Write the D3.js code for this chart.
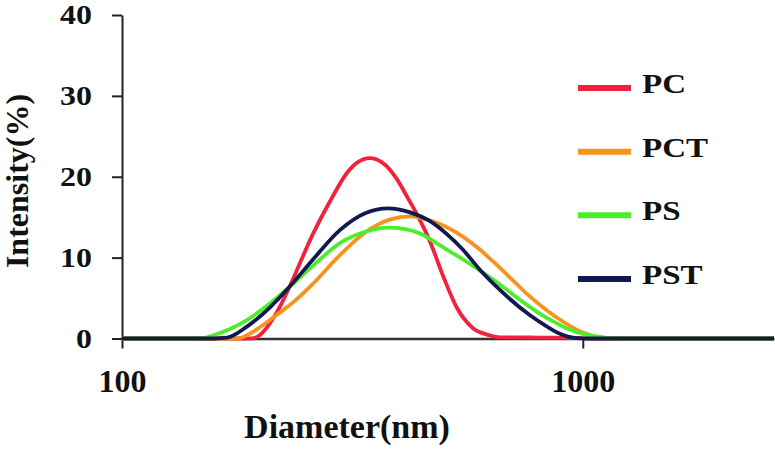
<!DOCTYPE html>
<html>
<head>
<meta charset="utf-8">
<script src="https://cdn.jsdelivr.net/npm/d3@7"></script>
<style>
  html, body { margin: 0; padding: 0; background: #fff; }
  svg { display: block; }
  text { font-family: "Liberation Serif", "Times New Roman", serif; font-weight: bold; fill: #111; }
</style>
</head>
<body>
<svg id="chart" width="775" height="450"></svg>
<script>
// ---- Data ----
const xTicks = [100, 1000];
const yTicks = [0, 10, 20, 30, 40];
const seriesNames = ["PC", "PCT", "PS", "PST"];
const seriesColors = ["#f2213c", "#f7921f", "#4ded2c", "#111a4e"];

const pcDiam  = [100, 191, 199, 209, 220, 231, 260, 283, 308, 325, 345, 366, 381, 395, 415, 439, 466, 497, 533, 577, 622, 661, 800, 971, 1010, 2600];
const pcInt   = [0, 0, 0.4, 1.8, 3.9, 6.4, 13.0, 17.0, 20.5, 21.8, 22.3, 21.8, 20.9, 19.7, 17.6, 15.1, 12.0, 7.8, 3.8, 1.3, 0.45, 0.15, 0.12, 0.08, 0, 0];

const pctDiam = [100, 178, 192, 204, 220, 240, 260, 297, 337, 381, 422, 466, 549, 598, 628, 671, 705, 767, 835, 905, 985, 1062, 1144, 2600];
const pctInt  = [0, 0, 0.8, 1.8, 3.2, 4.9, 6.8, 10.3, 13.1, 14.7, 15.1, 14.6, 12.6, 11.0, 9.9, 8.4, 7.2, 5.2, 3.5, 2.1, 0.9, 0.25, 0, 0];

const psDiam  = [100, 148, 158, 172, 187, 209, 231, 262, 297, 337, 381, 443, 490, 549, 598, 671, 730, 795, 870, 937, 1010, 1105, 1203, 2600];
const psInt   = [0, 0, 0.4, 1.2, 2.3, 4.3, 6.4, 9.2, 11.8, 13.2, 13.7, 13.0, 11.5, 9.8, 8.4, 6.4, 4.8, 3.3, 2.0, 1.1, 0.5, 0.15, 0, 0];

const pstDiam = [100, 159, 169, 187, 209, 231, 260, 297, 337, 378, 422, 466, 507, 549, 598, 661, 767, 835, 892, 971, 1036, 2600];
const pstInt  = [0, 0, 0.1, 1.5, 3.8, 6.4, 9.8, 13.4, 15.5, 16.1, 15.6, 14.5, 12.9, 11.0, 8.5, 6.0, 2.9, 1.5, 0.6, 0.05, 0, 0];

const allDiam = [pcDiam, pctDiam, psDiam, pstDiam];
const allInt  = [pcInt, pctInt, psInt, pstInt];

// ---- Chart ----
const svg = d3.select("#chart");

const x = d3.scaleLog().domain([100, 2600]).range([122, 774]);
const y = d3.scaleLinear().domain([0, 40]).range([338.5, 15]);

const yStretch = 1.14;

// Y axis
const yAxis = svg.append("g")
  .attr("transform", `translate(${x(100)},0)`)
  .call(d3.axisLeft(y).tickValues(yTicks).tickSize(10).tickPadding(20).tickSizeOuter(0).tickFormat(d3.format("d")));
yAxis.select(".domain").attr("stroke", "#222").attr("stroke-width", 2);
yAxis.selectAll(".tick line").attr("stroke", "#222").attr("stroke-width", 2);
yAxis.selectAll(".tick text")
  .style("font-size", "28px").style("font-family", "Liberation Serif").style("font-weight", "bold")
  .attr("fill", "#111")
  .attr("x", -30 / yStretch)
  .attr("transform", `scale(${yStretch},1)`);

// X axis
const xAxis = svg.append("g")
  .attr("transform", `translate(0,${y(0)})`)
  .call(d3.axisBottom(x).tickValues(xTicks).tickSize(10).tickPadding(21).tickSizeOuter(0).tickFormat(d3.format("d")));
xAxis.select(".domain").attr("stroke", "#333").attr("stroke-width", 2.5);
xAxis.selectAll(".tick line").attr("stroke", "#222").attr("stroke-width", 2);
xAxis.selectAll(".tick text").style("font-size", "32px").style("font-family", "Liberation Serif").style("font-weight", "bold").attr("fill", "#111");

// Axis titles
svg.append("text")
  .attr("x", 347).attr("y", 438)
  .attr("text-anchor", "middle")
  .style("font-size", "34px")
  .text("Diameter(nm)");

svg.append("text")
  .attr("transform", "translate(28,181) rotate(-90)")
  .attr("text-anchor", "middle")
  .style("font-size", "32px")
  .text("Intensity(%)");

// Lines
const line = d3.line()
  .x(d => x(d[0]))
  .y(d => y(d[1]))
  .curve(d3.curveMonotoneX);

seriesNames.forEach((name, i) => {
  const pts = allDiam[i].map((dv, j) => [dv, allInt[i][j]]);
  svg.append("path")
    .datum(pts)
    .attr("fill", "none")
    .attr("stroke", seriesColors[i])
    .attr("stroke-width", 3.8)
    .attr("stroke-linejoin", "round")
    .attr("d", line);
});

// Legend
const legendY = d3.scaleLinear().domain([0, 3]).range([88, 279]);
seriesNames.forEach((name, i) => {
  const g = svg.append("g").attr("transform", `translate(0,${legendY(i)})`);
  g.append("line")
    .attr("x1", 578).attr("x2", 631)
    .attr("y1", 0).attr("y2", 0)
    .attr("stroke", seriesColors[i])
    .attr("stroke-width", 6);
  g.append("text")
    .attr("transform", "translate(642,5) scale(1.18,1)")
    .style("font-size", "28px")
    .text(name);
});
</script>
</body>
</html>
